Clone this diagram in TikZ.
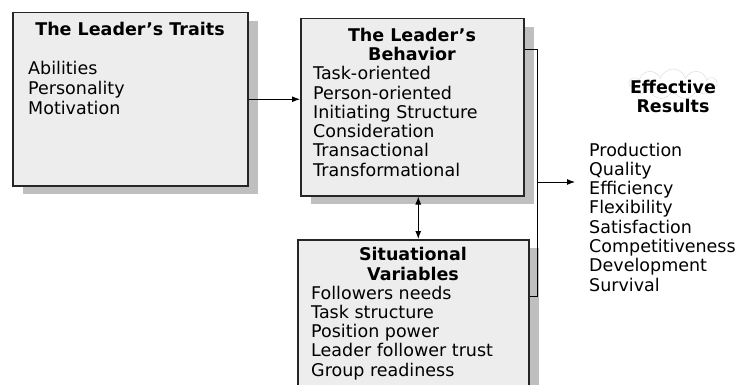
\documentclass[tikz,border=0pt]{standalone}
\usepackage{fontspec}
\setmainfont{DejaVu Sans}
\usetikzlibrary{positioning,shadows,shapes.symbols,arrows.meta}

\newcommand\boxfont{\fontsize{17.5}{19.5}\selectfont}

\tikzset{
  panel/.style={draw=black!85, line width=1.5pt, fill=gray!14, anchor=north west,
    inner sep=0pt,
    drop shadow={fill=gray!50, opacity=1, shadow xshift=10pt, shadow yshift=-8pt}},
  head/.style={font=\boxfont\bfseries, align=center, anchor=base, inner sep=0pt},
  item/.style={font=\boxfont, anchor=base west, inner sep=0pt},
  link/.style={line width=1pt},
}

\begin{document}
\begin{tikzpicture}[x=1pt, y=-1pt, >={Latex[length=8pt,width=6pt]}]
            \useasboundingbox (0,0) rectangle (746,385);
            % the three panels
            \node[panel, minimum width=235pt, minimum height=173pt] (traits) at (12,12) {};
            \node[panel, minimum width=223pt, minimum height=177pt] (behavior) at (300,18) {};
            \node[panel, minimum width=231pt, minimum height=146pt] (situation) at (297,239) {};
            % headings (base = last line)
            \node[head] (traits head) at (130,36) {The Leader's Traits};
            \node[head] (behavior head) at (412,61) {The Leader's\\Behavior};
            \node[head] (situation head) at (413,280) {Situational\\Variables};
            \node[cloud, draw=gray!30, fill=white, cloud puffs=11, aspect=3,
                  minimum width=88pt, minimum height=30pt] (results cloud) at (673,84) {};
            \node[head] (results head) at (673,113) {Effective\\Results};
            % lists
            \foreach \w [count=\i] in {Abilities,Personality,Motivation}{%
                    \node[item] (traits-\i) at (28,75+19.6*\i-19.6) {\w};
                }
            \foreach \w [count=\i] in {Task-oriented,Person-oriented,Initiating Structure,
                    Consideration,Transactional,Transformational}{%
                    \node[item] (behavior-\i) at (313,80+19.2*\i-19.2) {\w};
                }
            \foreach \w [count=\i] in {Followers needs,Task structure,Position power,
                    Leader follower trust,Group readiness}{%
                    \node[item] (situation-\i) at (311,299+19.3*\i-19.3) {\w};
                }
            \foreach \w [count=\i] in {Production,Quality,Efficiency,Flexibility,
                    Satisfaction,Competitiveness,Development,Survival}{%
                    \node[item] (results-\i) at (589,156+19.3*\i-19.3) {\w};
                }
            % connectors
            \coordinate (bus top) at (537,50);
            \coordinate (bus bottom) at (537,296);
            \coordinate (bus out) at (537,182);
            \coordinate (results in) at (575,182);
            \draw[link,->] (traits.east) -- (traits.east -| behavior.west);
            \draw[link,<->] ([xshift=6pt]behavior.south) -- ([xshift=6pt]behavior.south |- situation.north);
            \draw[link] (behavior.east |- bus top) -- (bus top) -- (bus bottom) -- (bus bottom -| situation.east);
            \draw[link,->] (bus out) -- (results in);
        \end{tikzpicture}
\end{document}
